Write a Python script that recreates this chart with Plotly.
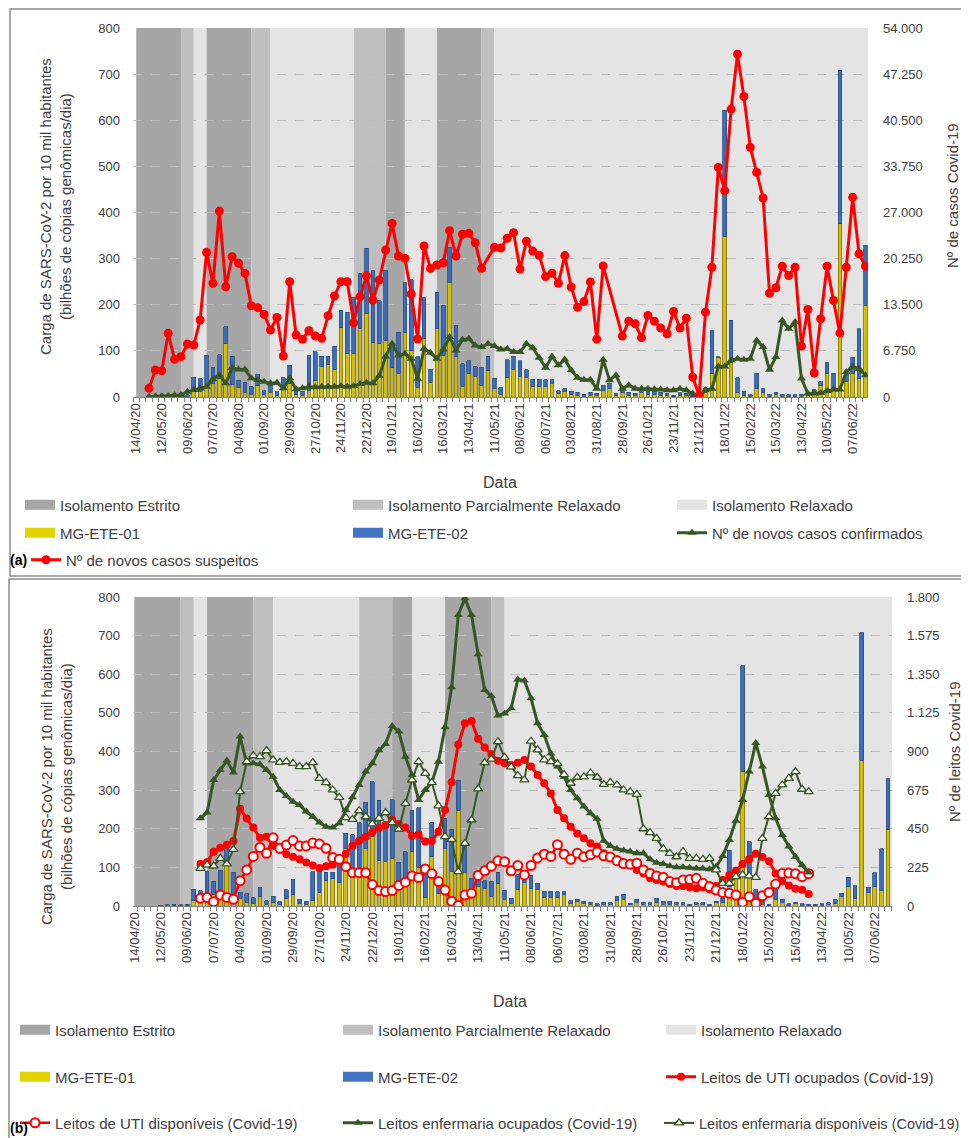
import plotly.graph_objects as go

# The page body has an 8px default margin, so the figure is drawn 8px in from
# the top-left corner of the window; all pixel positions below are window pixels.
OFF = 8
W, H = 969 - OFF, 1138 - OFF

# ---------------- data ----------------
weeks = list(range(115))
tick_weeks = list(range(0, 113, 4))
tick_labels = ["14/04/20", "12/05/20", "09/06/20", "07/07/20", "04/08/20", "01/09/20",
               "29/09/20", "27/10/20", "24/11/20", "22/12/20", "19/01/21", "16/02/21",
               "16/03/21", "13/04/21", "11/05/21", "08/06/21", "06/07/21", "03/08/21",
               "31/08/21", "28/09/21", "26/10/21", "23/11/21", "21/12/21", "18/01/22",
               "15/02/22", "15/03/22", "13/04/22", "10/05/22", "07/06/22"]

phase_start = [0, 7, 9, 11, 18, 21, 34, 39, 42, 47, 54, 56]
phase_end = [7, 9, 11, 18, 21, 34, 39, 42, 47, 54, 56, 115]
phase_kind = ["Estrito", "Parcial", "Relaxado", "Estrito", "Parcial", "Relaxado",
              "Parcial", "Estrito", "Relaxado", "Estrito", "Parcial", "Relaxado"]

mg_ete_01 = [0, 0, 0, 0, 0, 0, 1, 1, 1, 14,
             12, 28, 30, 40, 115, 27, 20, 10, 6, 24,
             5, 10, 3, 20, 30, 6, 4, 14, 35, 66,
             70, 60, 150, 95, 94, 148, 180, 119, 116, 123,
             63, 52, 140, 100, 21, 127, 32, 148, 90, 248,
             87, 23, 51, 45, 25, 58, 18, 6, 43, 60,
             45, 42, 23, 23, 22, 29, 7, 11, 6, 4,
             2, 4, 3, 14, 18, 3, 9, 4, 3, 10,
             5, 5, 4, 3, 1, 4, 3, 1, 8, 10,
             50, 86, 348, 75, 9, 4, 2, 18, 9, 2,
             6, 2, 2, 2, 2, 3, 6, 24, 50, 20,
             377, 34, 50, 40, 199]

mg_ete_02 = [0, 0, 0, 0, 2, 3, 3, 2, 4, 29,
             28, 62, 34, 52, 37, 61, 16, 22, 16, 25,
             9, 15, 8, 22, 39, 12, 8, 75, 63, 22,
             18, 50, 38, 89, 122, 120, 142, 155, 93, 152,
             50, 88, 108, 154, 66, 88, 28, 79, 109, 77,
             68, 49, 28, 21, 39, 30, 23, 14, 38, 28,
             34, 17, 15, 15, 15, 8, 7, 7, 6, 6,
             4, 6, 5, 11, 12, 4, 8, 6, 5, 10,
             7, 7, 6, 5, 3, 5, 5, 3, 4, 10,
             94, 1, 274, 91, 33, 8, 3, 34, 9, 4,
             4, 4, 3, 3, 4, 5, 10, 9, 24, 32,
             331, 15, 36, 108, 130]

casos_suspeitos = [None, None, 1270, 3950, 3850, 9320, 5510, 5900, 7750, 7610,
                   11270, 21170, 16630, 27210, 16140, 20530, 19560, 18090, 13360, 13070,
                   12090, 9800, 11650, 6000, 16870, 9070, 8440, 9700, 8920, 8580,
                   11900, 14780, 16870, 16870, 10870, 14680, 17700, 14190, 17120, 21510,
                   25400, 20630, 20290, 15070, 8490, 22090, 18820, 19310, 19650, 24330,
                   20630, 23800, 23950, 22580, 18830, None, 21900, 21790, 23230, 24050,
                   18720, 22790, 21350, 20740, 17620, 18110, 16650, 20690, 16100, 13140,
                   13960, 16840, 8460, 19180, None, None, 8910, 11100, 10720, 8680,
                   11940, 11100, 10080, 9260, 12520, 10080, 11540, 2920, 200, 12420,
                   18990, 33600, 30200, 42130, 50170, 43980, 36530, 32870, 29130, 15190,
                   15980, 19140, 17780, 18990, 7450, 12810, 3510, 11450, 19140, 14130,
                   9350, 18990, 29220, 20950, 19140]

casos_confirmados = [None, None, 50, 100, 120, 150, 250, 300, 750, 1020,
                     1260, 1510, 2580, 3210, 2000, 4290, 4040, 4040, 2730, 2480,
                     2240, 2000, 2090, 1270, 2730, 1120, 1270, 1510, 1410, 1510,
                     1510, 1510, 1610, 1510, 1610, 1900, 2090, 2000, 3100, 5940,
                     7790, 6090, 6330, 5600, 2680, 7060, 6480, 5600, 6960, 8770,
                     6820, 8380, 8520, 7550, 7300, 7790, 7450, 6960, 7060, 6570,
                     6570, 7790, 7200, 5750, 4290, 5940, 4630, 5500, 3900, 2820,
                     2530, 2530, 1220, 5450, 2440, 3170, 1220, 1710, 1220, 1220,
                     1220, 1120, 1080, 980, 980, 1220, 980, 500, 100, 980,
                     1220, 4480, 4480, 5360, 5600, 5450, 5600, 8280, 7310, 4000,
                     5850, 11200, 9990, 10960, 2690, 500, 500, 600, 880, 1080,
                     1080, 3650, 4480, 4140, 3170]

_n = [None] * 10
_t = [None] * 12
uti_ocupados = _n + [244, 255, 316, 340, 357, 378, 566, 510, 458, 397,
                     404, 350, 328, 302, 287, 272, 253, 236, 222, 231,
                     240, 262, 304, 350, 380, 404, 430, 455, 472, 503,
                     477, 458, 408, 416, 375, 378, 433, 559, 721, 941,
                     1064, 1077, 974, 923, 884, 846, 831, 821, 835, 851,
                     812, 763, 715, 656, 559, 511, 462, 423, 394, 365,
                     346, 307, 287, 272, 253, 239, 210, 190, 161, 151,
                     142, 128, 117, 117, 109, 103, 109, 97, 117, 151,
                     180, 205, 245, 273, 305, 285, 261, 190, 146, 120,
                     100, 95, 70] + _t

uti_disponiveis = _n + [45, 50, 25, 64, 50, 39, 147, 210, 289, 341,
                        307, 397, 336, 355, 381, 350, 350, 367, 361, 336,
                        282, 272, 229, 194, 194, 194, 125, 90, 84, 90,
                        120, 139, 175, 166, 216, 188, 142, 93, 28, 3,
                        64, 74, 178, 205, 231, 263, 258, 205, 236, 181,
                        236, 280, 302, 289, 357, 302, 272, 307, 287, 299,
                        314, 292, 285, 264, 247, 243, 249, 210, 190, 175,
                        167, 142, 136, 151, 155, 161, 132, 113, 93, 78,
                        74, 64, 22, 54, 16, 59, 79, 128, 190, 192,
                        188, 171, 188] + _t

enf_ocupados = _n + [511, 544, 734, 792, 847, 777, 987, 830, 831, 825,
                     792, 753, 676, 641, 608, 588, 550, 520, 487, 462,
                     458, 482, 559, 633, 705, 783, 831, 907, 944, 1049,
                     1016, 870, 763, 618, 676, 719, 841, 1041, 1274, 1695,
                     1792, 1695, 1467, 1258, 1223, 1110, 1122, 1152, 1320, 1313,
                     1210, 1064, 996, 889, 812, 753, 676, 627, 579, 540,
                     508, 380, 350, 333, 323, 317, 307, 307, 272, 252,
                     245, 233, 225, 225, 223, 219, 218, 214, 229, 291,
                     385, 497, 618, 783, 950, 812, 647, 511, 414, 346,
                     287, 239, 195] + _t

enf_disponiveis = _n + [219, 239, 233, 278, 245, 330, 666, 841, 876, 870,
                        905, 851, 837, 841, 831, 812, 812, 835, 744, 719,
                        676, 633, 515, 505, 555, 520, 478, 510, 544, 486,
                        447, 598, 734, 841, 773, 719, 583, 404, 388, 200,
                        365, 501, 682, 835, 855, 957, 866, 810, 760, 735,
                        960, 910, 851, 841, 830, 765, 715, 750, 752, 775,
                        750, 708, 720, 705, 676, 665, 650, 450, 428, 394,
                        333, 307, 287, 317, 278, 278, 272, 278, 210, 132,
                        132, 171, 181, 175, 167, 394, 520, 656, 705, 744,
                        783, 680, 666] + _t

# ---------------- styling ----------------
FONT = "Liberation Sans, Arial, sans-serif"
TXT = "#404040"
RED = "#FF0000"
GREEN = "#375623"
YEL, YEL_LINE = "#D2BF00", "#7F6E00"
BLU, BLU_LINE = "#3D6DB3", "#2A4E86"
PHASE_COLOR = {"Estrito": "#A6A6A6", "Parcial": "#BFBFBF", "Relaxado": "#E4E4E4"}
PHASE_NAME = {"Estrito": "Isolamento Estrito", "Parcial": "Isolamento Parcialmente Relaxado",
              "Relaxado": "Isolamento Relaxado"}


def px(x):
    return (x - OFF) / W


def py(y):
    return 1 - (y - OFF) / H


RANGE_A = [-0.5, 114.4]
RANGE_B = [-0.2, 114.6]

fig = go.Figure()

legends = {}
leg_counter = [0]


def new_legend(x_text, y_row, size=15):
    leg_counter[0] += 1
    key = "legend" if leg_counter[0] == 1 else "legend%d" % leg_counter[0]
    legends[key] = dict(x=px(x_text - 42), y=py(y_row), xanchor="left", yanchor="middle",
                        bgcolor="rgba(0,0,0,0)", borderwidth=0, itemwidth=30,
                        font=dict(family=FONT, size=size, color=TXT),
                        itemclick=False, itemdoubleclick=False, orientation="v")
    return key


def swatch(name, color, x_text, y_row):
    key = new_legend(x_text, y_row)
    fig.add_trace(go.Scatter(x=[None], y=[None], mode="lines", name=name,
                             line=dict(color=color, width=10), legend=key,
                             showlegend=True, hoverinfo="skip"))


# ---------------- panel (a) ----------------
fig.add_trace(go.Bar(x=weeks, y=mg_ete_01, name="MG-ETE-01", xaxis="x", yaxis="y",
                     marker=dict(color=YEL, line=dict(color=YEL_LINE, width=0.8)),
                     width=0.58, showlegend=False))
fig.add_trace(go.Bar(x=weeks, y=mg_ete_02, name="MG-ETE-02", xaxis="x", yaxis="y",
                     marker=dict(color=BLU, line=dict(color=BLU_LINE, width=0.8)),
                     width=0.58, showlegend=False))

colA = [62, 390, 714]
rowA = [505, 533, 560]
swatch(PHASE_NAME["Estrito"], PHASE_COLOR["Estrito"], colA[0], rowA[0])
swatch(PHASE_NAME["Parcial"], PHASE_COLOR["Parcial"], colA[1], rowA[0])
swatch(PHASE_NAME["Relaxado"], PHASE_COLOR["Relaxado"], colA[2], rowA[0])
swatch("MG-ETE-01", "#E2D400", colA[0], rowA[1])
swatch("MG-ETE-02", "#4472C4", colA[1], rowA[1])

k = new_legend(colA[2], rowA[1])
fig.add_trace(go.Scatter(x=weeks, y=casos_confirmados, name="Nº de novos casos confirmados",
                         xaxis="x", yaxis="y2", mode="lines+markers", legend=k,
                         line=dict(color=GREEN, width=3),
                         marker=dict(symbol="triangle-up", size=8, color=GREEN)))
k = new_legend(68, rowA[2])
fig.add_trace(go.Scatter(x=weeks, y=casos_suspeitos, name="Nº de novos casos suspeitos",
                         xaxis="x", yaxis="y2", mode="lines+markers", legend=k,
                         connectgaps=True, line=dict(color=RED, width=3),
                         marker=dict(symbol="circle", size=9, color=RED)))

# ---------------- panel (b) ----------------
fig.add_trace(go.Bar(x=weeks, y=mg_ete_01, name="MG-ETE-01", xaxis="x2", yaxis="y3",
                     marker=dict(color=YEL, line=dict(color=YEL_LINE, width=0.8)),
                     width=0.58, showlegend=False))
fig.add_trace(go.Bar(x=weeks, y=mg_ete_02, name="MG-ETE-02", xaxis="x2", yaxis="y3",
                     marker=dict(color=BLU, line=dict(color=BLU_LINE, width=0.8)),
                     width=0.58, showlegend=False))

colB = [57, 380, 703]
rowB = [1030, 1077, 1123]
swatch(PHASE_NAME["Estrito"], PHASE_COLOR["Estrito"], colB[0], rowB[0])
swatch(PHASE_NAME["Parcial"], PHASE_COLOR["Parcial"], colB[1], rowB[0])
swatch(PHASE_NAME["Relaxado"], PHASE_COLOR["Relaxado"], colB[2], rowB[0])
swatch("MG-ETE-01", "#E2D400", colB[0], rowB[1])
swatch("MG-ETE-02", "#4472C4", colB[1], rowB[1])

k = new_legend(colB[2], rowB[1])
fig.add_trace(go.Scatter(x=weeks, y=uti_ocupados, name="Leitos de UTI ocupados (Covid-19)",
                         xaxis="x2", yaxis="y4", mode="lines+markers", legend=k,
                         line=dict(color=RED, width=3),
                         marker=dict(symbol="circle", size=8, color=RED)))
k = new_legend(colB[0], rowB[2])
fig.add_trace(go.Scatter(x=weeks, y=uti_disponiveis, name="Leitos de UTI disponíveis (Covid-19)",
                         xaxis="x2", yaxis="y4", mode="lines+markers", legend=k,
                         line=dict(color=RED, width=2.5),
                         marker=dict(symbol="circle", size=9, color="white",
                                     line=dict(color=RED, width=2))))
k = new_legend(colB[1], rowB[2])
fig.add_trace(go.Scatter(x=weeks, y=enf_ocupados, name="Leitos enfermaria ocupados (Covid-19)",
                         xaxis="x2", yaxis="y4", mode="lines+markers", legend=k,
                         line=dict(color=GREEN, width=3),
                         marker=dict(symbol="triangle-up", size=8, color=GREEN)))
k = new_legend(colB[2] - 2, rowB[2], size=14.5)
fig.add_trace(go.Scatter(x=weeks, y=enf_disponiveis, name="Leitos enfermaria disponíveis (Covid-19)",
                         xaxis="x2", yaxis="y4", mode="lines+markers", legend=k,
                         line=dict(color=GREEN, width=2),
                         marker=dict(symbol="triangle-up", size=8, color="white",
                                     line=dict(color=GREEN, width=1.3))))

# ---------------- shapes ----------------
shapes = []
for xr, yr, rng in (("x", "y domain", RANGE_A), ("x2", "y3 domain", RANGE_B)):
    for s, e, kind in zip(phase_start, phase_end, phase_kind):
        shapes.append(dict(type="rect", xref=xr, yref=yr, x0=s, x1=min(e, rng[1]), y0=0, y1=1,
                           fillcolor=PHASE_COLOR[kind], line=dict(width=0), layer="below"))
shapes.append(dict(type="rect", xref="paper", yref="paper", x0=px(10), x1=px(967),
                   y0=py(576), y1=py(9), line=dict(color="#8C8C8C", width=1.5)))
shapes.append(dict(type="rect", xref="paper", yref="paper", x0=px(9), x1=px(967),
                   y0=py(1145), y1=py(579), line=dict(color="#8C8C8C", width=1.5)))

tickfont = dict(family=FONT, size=13, color=TXT)


def xaxis(domain, anchor, rng):
    return dict(domain=domain, anchor=anchor, range=rng, tickmode="array",
                tickvals=tick_weeks, ticktext=tick_labels, tickangle=-90,
                tickfont=tickfont, ticks="", showgrid=False, zeroline=False,
                showline=True, linecolor="#7F7F7F", linewidth=1.2, automargin=False,
                minor=dict(tickmode="linear", tick0=0.5, dtick=1, ticks="outside",
                           ticklen=4, tickcolor="#7F7F7F", showgrid=False))


def yleft(domain, anchor):
    return dict(domain=domain, anchor=anchor, range=[0, 800], dtick=100,
                tickfont=tickfont, showgrid=True, gridcolor="#BDBDBD", griddash="dash",
                gridwidth=1, zeroline=False, ticks="", showline=False,
                ticklabelstandoff=12, automargin=False)


def yright(overlay, anchor, top, dt):
    return dict(overlaying=overlay, anchor=anchor, side="right", range=[0, top], dtick=dt,
                tickformat=",d", tickfont=tickfont, showgrid=False, zeroline=False,
                ticks="", showline=False, ticklabelstandoff=14, automargin=False)


def ann(text, x, y, size=15, angle=0, color=TXT, xanchor="center"):
    return dict(text=text, x=px(x), y=py(y), xref="paper", yref="paper", textangle=angle,
                showarrow=False, xanchor=xanchor, yanchor="middle",
                font=dict(family=FONT, size=size, color=color))


left_title = "Carga de SARS-CoV-2 por 10 mil habitantes<br>(bilhões de cópias genômicas/dia)"
annotations = [
    ann(left_title, 56, 207, angle=-90),
    ann("Nº de casos Covid-19", 953, 196, angle=-90),
    ann("Data", 500, 482, size=16),
    ann("<b>(a)</b>", 8, 560, size=14, color="black", xanchor="left"),
    ann(left_title, 56, 777, angle=-90),
    ann("Nº de leitos Covid-19", 954, 752, angle=-90),
    ann("Data", 510, 1002, size=16),
    ann("<b>(b)</b>", 8, 1128, size=14, color="black", xanchor="left"),
]

fig.update_layout(
    width=W, height=H, autosize=False,
    margin=dict(l=0, r=0, t=0, b=0, autoexpand=False),
    paper_bgcolor="white", plot_bgcolor="white",
    barmode="stack",
    separators=",.",
    font=dict(family=FONT, color=TXT),
    xaxis=xaxis([px(133), px(868)], "y", RANGE_A),
    yaxis=yleft([py(397), py(28)], "x"),
    yaxis2=yright("y", "x", 54000, 6750),
    xaxis2=xaxis([px(133), px(892)], "y3", RANGE_B),
    yaxis3=yleft([py(906), py(597)], "x2"),
    yaxis4=yright("y3", "x2", 1800, 225),
    shapes=shapes,
    annotations=annotations,
    **legends,
)

fig.write_html("out.html")
